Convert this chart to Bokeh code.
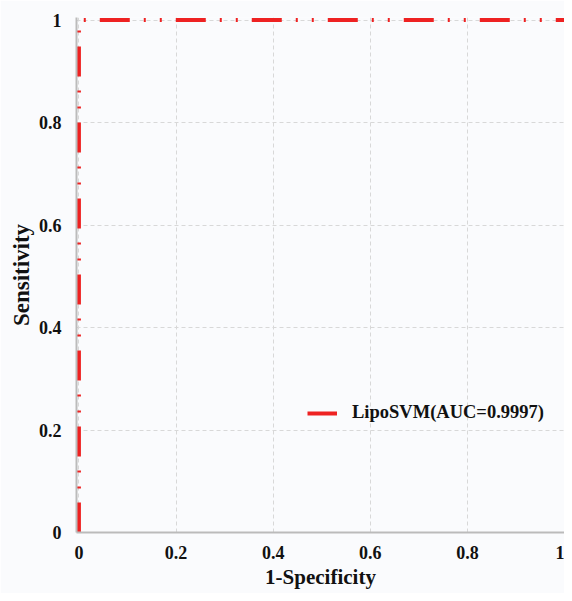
from bokeh.plotting import figure
from bokeh.models import Range1d, FixedTicker, Legend, LegendItem
from bokeh.embed import file_html
from bokeh.resources import INLINE

# ROC data
fpr = [0.0, 0.0, 0.0, 0.004, 1.0]
tpr = [0.0, 0.97, 0.995, 1.0, 1.0]
ticks = [0, 0.2, 0.4, 0.6, 0.8, 1]
tick_labels = {0: "0", 0.2: "0.2", 0.4: "0.4", 0.6: "0.6", 0.8: "0.8", 1: "1"}
series_label = "LipoSVM(AUC=0.9997)"

FONT = "Liberation Serif"
BG = "#fafbfd"

p = figure(width=564, height=593, output_backend="svg", toolbar_location=None,
           x_range=Range1d(-0.005, 1), y_range=Range1d(0, 1.005),
           min_border_left=76, min_border_right=0, min_border_top=17, min_border_bottom=61)
p.background_fill_color = BG
p.border_fill_color = BG
p.outline_line_color = None

r = p.line(fpr, tpr, line_color="#ee2222", line_width=4, line_dash="30 14 2 14 2 14")

for ax in (p.xaxis[0], p.yaxis[0]):
    ax.ticker = FixedTicker(ticks=ticks)
    ax.major_label_overrides = tick_labels
    ax.major_tick_line_color = None
    ax.minor_tick_line_color = None
    ax.major_tick_out = 0
    ax.major_tick_in = 0
    ax.minor_tick_out = 0
    ax.axis_line_color = "#bbbbbb"
    ax.axis_line_width = 2
    ax.major_label_text_font = FONT
    ax.major_label_text_font_style = "bold"
    ax.major_label_text_font_size = "18px"
    ax.major_label_text_color = "#111111"
    ax.axis_label_text_font = FONT
    ax.axis_label_text_font_style = "bold"
    ax.axis_label_text_color = "#111111"

p.xaxis.axis_label = "1-Specificity"
p.yaxis.axis_label = "Sensitivity"
p.xaxis.axis_label_text_font_size = "21px"
p.yaxis.axis_label_text_font_size = "23px"
p.xaxis.major_label_standoff = 13
p.yaxis.major_label_standoff = 15
p.xaxis.axis_label_standoff = 3
p.yaxis.axis_label_standoff = 2

for g in (p.xgrid[0], p.ygrid[0]):
    g.ticker = FixedTicker(ticks=ticks)
    g.grid_line_color = "#d8d8d8"
    g.grid_line_dash = "4 3"
    g.grid_line_width = 1

legend = Legend(items=[LegendItem(label=series_label, renderers=[r])],
                location=(231, 109), padding=0, margin=0, spacing=0,
                glyph_width=30, glyph_height=20, label_standoff=15,
                label_text_font=FONT, label_text_font_style="bold",
                label_text_font_size="18.5px", label_text_color="#111111",
                background_fill_alpha=0, border_line_color=None)
p.add_layout(legend)

open("out.html", "w").write(file_html(p, INLINE))
